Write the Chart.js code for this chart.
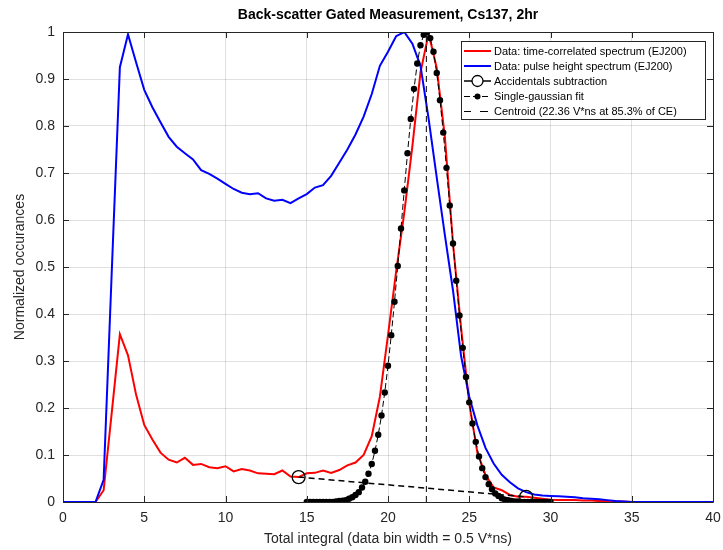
<!DOCTYPE html>
<html>
<head>
<meta charset="utf-8">
<script src="https://cdn.jsdelivr.net/npm/chart.js@4.4.1/dist/chart.umd.min.js"></script>
<style>
  html, body { margin: 0; padding: 0; background: #fff; }
  #wrap { width: 723px; height: 550px; }
</style>
</head>
<body>
<div id="wrap"><canvas id="chart" width="723" height="550"></canvas></div>
<script>
// bin centres, 0.5 V*ns wide
const binX = [
  0, 0.5, 1, 1.5, 2, 2.5, 3, 3.5, 4, 4.5,
  5, 5.5, 6, 6.5, 7, 7.5, 8, 8.5, 9, 9.5,
  10, 10.5, 11, 11.5, 12, 12.5, 13, 13.5, 14, 14.5,
  15, 15.5, 16, 16.5, 17, 17.5, 18, 18.5, 19, 19.5,
  20, 20.5, 21, 21.5, 22, 22.5, 23, 23.5, 24, 24.5,
  25, 25.5, 26, 26.5, 27, 27.5, 28, 28.5, 29, 29.5,
  30, 30.5, 31, 31.5, 32, 32.5, 33, 33.5, 34, 34.5,
  35, 35.5, 36, 36.5, 37, 37.5, 38, 38.5, 39, 39.5,
  40
];

// time-correlated spectrum (red)
const timeCorrelated = [
  0, 0, 0, 0, 0, 0.025, 0.19, 0.357, 0.312, 0.228,
  0.164, 0.133, 0.105, 0.090, 0.084, 0.094, 0.079, 0.081, 0.074, 0.072,
  0.076, 0.065, 0.070, 0.067, 0.061, 0.060, 0.059, 0.067, 0.054, 0.053,
  0.061, 0.062, 0.067, 0.062, 0.068, 0.078, 0.084, 0.100, 0.140, 0.224,
  0.355, 0.49, 0.615, 0.757, 0.914, 0.997, 0.923, 0.777, 0.55, 0.37,
  0.21, 0.105, 0.058, 0.031, 0.025, 0.015, 0.011, 0.011, 0.009, 0.007,
  0.005, 0.004, 0.004, 0.004, 0.003, 0.003, 0.002, 0.002, 0.001, 0.001,
  0, 0, 0, 0, 0, 0, 0, 0, 0, 0,
  0
];

// pulse height spectrum (blue)
const pulseHeight = [
  0, 0, 0, 0, 0, 0.047, 0.49, 0.925, 0.995, 0.935,
  0.877, 0.84, 0.808, 0.777, 0.756, 0.742, 0.729, 0.706, 0.698, 0.688,
  0.677, 0.666, 0.658, 0.655, 0.657, 0.646, 0.641, 0.643, 0.636, 0.646,
  0.655, 0.669, 0.674, 0.694, 0.722, 0.75, 0.782, 0.82, 0.868, 0.928,
  0.958, 0.991, 1.0, 0.975, 0.928, 0.815, 0.69, 0.568, 0.45, 0.31,
  0.224, 0.163, 0.115, 0.082, 0.058, 0.042, 0.029, 0.021, 0.016, 0.014,
  0.013, 0.012, 0.011, 0.010, 0.008, 0.007, 0.006, 0.004, 0.002, 0.001,
  0, 0, 0, 0, 0, 0, 0, 0, 0, 0,
  0
];

// single-gaussian fit points
const gaussX = [
  15, 15.2, 15.4, 15.6, 15.8, 16, 16.2, 16.4, 16.6, 16.8,
  17, 17.2, 17.4, 17.6, 17.8, 18, 18.2, 18.4, 18.6, 18.8,
  19, 19.2, 19.4, 19.6, 19.8, 20, 20.2, 20.4, 20.6, 20.8,
  21, 21.2, 21.4, 21.6, 21.8, 22, 22.2, 22.4, 22.6, 22.8,
  23, 23.2, 23.4, 23.6, 23.8, 24, 24.2, 24.4, 24.6, 24.8,
  25, 25.2, 25.4, 25.6, 25.8, 26, 26.2, 26.4, 26.6, 26.8,
  27, 27.2, 27.4, 27.6, 27.8, 28, 28.2, 28.4, 28.6, 28.8,
  29, 29.2, 29.4, 29.6, 29.8, 30
];
const gaussFit = [
  0, 0, 0, 0, 0, 0, 0, 0, 0, 0.001,
  0.002, 0.003, 0.004, 0.007, 0.010, 0.015, 0.021, 0.031, 0.043, 0.060,
  0.081, 0.109, 0.143, 0.184, 0.233, 0.290, 0.355, 0.426, 0.502, 0.582,
  0.663, 0.742, 0.815, 0.879, 0.933, 0.972, 0.994, 1.000, 0.987, 0.958,
  0.913, 0.855, 0.786, 0.711, 0.631, 0.550, 0.471, 0.397, 0.328, 0.266,
  0.212, 0.167, 0.128, 0.097, 0.072, 0.053, 0.038, 0.027, 0.018, 0.013,
  0.008, 0.005, 0.004, 0.002, 0.001, 0.001, 0, 0, 0, 0,
  0, 0, 0, 0, 0, 0
];

// accidentals subtraction end points
const accidentalX = [14.5, 28.5];
const accidentalY = [0.053, 0.011];

// centroid marker
const centroidX = 22.36;
const centroidY = [0, 1];

const xTicks = [0, 5, 10, 15, 20, 25, 30, 35, 40];
const yTicks = [0, 0.1, 0.2, 0.3, 0.4, 0.5, 0.6, 0.7, 0.8, 0.9, 1];

const legendLabels = [
  'Data: time-correlated spectrum (EJ200)',
  'Data: pulse height spectrum (EJ200)',
  'Accidentals subtraction',
  'Single-gaussian fit',
  'Centroid (22.36 V*ns at 85.3% of CE)'
];

const FONT = '"Liberation Sans", Arial, Helvetica, sans-serif';
const AXIS_COLOR = '#262626';

function toPoints(xs, ys) {
  return xs.map((x, i) => ({ x: x, y: ys[i] }));
}

// no extra room for edge labels, keep the plot box fixed
function fixScale(s, size) {
  if (s.isHorizontal()) s.height = size; else s.width = size;
  s.paddingLeft = 0; s.paddingRight = 0;
  s.paddingTop = 0; s.paddingBottom = 0;
}

// matlab style box, inner ticks, title and legend
const matlabBox = {
  id: 'matlabBox',
  afterDraw(chart) {
    const ctx = chart.ctx;
    const a = chart.chartArea;
    const xs = chart.scales.x, ys = chart.scales.y;
    ctx.save();

    ctx.strokeStyle = AXIS_COLOR;
    ctx.lineWidth = 1;
    ctx.beginPath();
    ctx.rect(Math.round(a.left) + 0.5, Math.round(a.top) + 0.5,
             Math.round(a.right - a.left), Math.round(a.bottom - a.top));
    ctx.stroke();

    ctx.beginPath();
    xTicks.forEach(t => {
      const px = Math.round(xs.getPixelForValue(t)) + 0.5;
      ctx.moveTo(px, a.bottom); ctx.lineTo(px, a.bottom - 6);
      ctx.moveTo(px, a.top); ctx.lineTo(px, a.top + 6);
    });
    yTicks.forEach(t => {
      const py = Math.round(ys.getPixelForValue(t)) + 0.5;
      ctx.moveTo(a.left, py); ctx.lineTo(a.left + 6, py);
      ctx.moveTo(a.right, py); ctx.lineTo(a.right - 6, py);
    });
    ctx.stroke();

    // title
    ctx.fillStyle = '#000';
    ctx.font = 'bold 14px ' + FONT;
    ctx.textAlign = 'center';
    ctx.textBaseline = 'middle';
    ctx.fillText('Back-scatter Gated Measurement, Cs137, 2hr', (a.left + a.right) / 2, 15);

    // legend
    const bx = 461, by = 41, bw = 244, bh = 78;
    ctx.fillStyle = '#fff';
    ctx.fillRect(bx, by, bw, bh);
    ctx.strokeStyle = AXIS_COLOR;
    ctx.lineWidth = 1;
    ctx.strokeRect(bx + 0.5, by + 0.5, bw, bh);

    const rowY = [51, 66, 81, 96.5, 111.5];
    const l0 = 464, l1 = 491, lm = 477.5;
    ctx.font = '11px ' + FONT;
    ctx.textAlign = 'left';
    ctx.textBaseline = 'middle';
    legendLabels.forEach((txt, i) => {
      const y = rowY[i];
      ctx.setLineDash([]);
      if (i === 0 || i === 1) {
        ctx.strokeStyle = i === 0 ? '#ff0000' : '#0000ff';
        ctx.lineWidth = 2;
        ctx.beginPath(); ctx.moveTo(l0, y); ctx.lineTo(l1, y); ctx.stroke();
      } else if (i === 2) {
        ctx.strokeStyle = '#000';
        ctx.lineWidth = 1.5;
        ctx.beginPath();
        ctx.moveTo(l0, y); ctx.lineTo(lm - 5.5, y);
        ctx.moveTo(lm + 5.5, y); ctx.lineTo(l1, y);
        ctx.stroke();
        ctx.lineWidth = 1.3;
        ctx.beginPath(); ctx.arc(lm, y, 5.5, 0, Math.PI * 2); ctx.stroke();
      } else if (i === 3) {
        ctx.strokeStyle = '#000';
        ctx.lineWidth = 1;
        ctx.setLineDash([6, 3]);
        ctx.beginPath(); ctx.moveTo(l0, y); ctx.lineTo(l1, y); ctx.stroke();
        ctx.setLineDash([]);
        ctx.fillStyle = '#000';
        ctx.beginPath(); ctx.arc(lm, y, 3, 0, Math.PI * 2); ctx.fill();
      } else {
        ctx.strokeStyle = '#000';
        ctx.lineWidth = 1;
        ctx.beginPath();
        ctx.moveTo(l0, y); ctx.lineTo(l0 + 7, y);
        ctx.moveTo(l0 + 16, y); ctx.lineTo(l0 + 24, y);
        ctx.stroke();
      }
      ctx.fillStyle = '#000';
      ctx.fillText(txt, 494, y + 0.5);
    });

    ctx.restore();
  }
};

const ctx = document.getElementById('chart').getContext('2d');
new Chart(ctx, {
  type: 'scatter',
  data: {
    datasets: [
      {
        label: legendLabels[0],
        data: toPoints(binX, timeCorrelated),
        showLine: true,
        borderColor: '#ff0000',
        borderWidth: 2,
        pointRadius: 0,
        tension: 0,
        order: 5
      },
      {
        label: legendLabels[1],
        data: toPoints(binX, pulseHeight),
        showLine: true,
        borderColor: '#0000ff',
        borderWidth: 2,
        pointRadius: 0,
        tension: 0,
        order: 4
      },
      {
        label: legendLabels[2],
        data: toPoints(accidentalX, accidentalY),
        showLine: true,
        borderColor: '#000',
        borderWidth: 1.5,
        borderDash: [6, 4],
        pointRadius: 6.5,
        pointBorderWidth: 1.3,
        pointBorderColor: '#000',
        pointBackgroundColor: 'rgba(0,0,0,0)',
        order: 3
      },
      {
        label: legendLabels[3],
        data: toPoints(gaussX, gaussFit),
        showLine: true,
        borderColor: '#000',
        borderWidth: 1,
        borderDash: [6, 3],
        pointRadius: 3.2,
        pointBorderWidth: 0,
        pointBackgroundColor: '#000',
        pointBorderColor: '#000',
        order: 2
      },
      {
        label: legendLabels[4],
        data: toPoints([centroidX, centroidX], centroidY),
        showLine: true,
        borderColor: '#000',
        borderWidth: 1,
        borderDash: [6, 4],
        pointRadius: 0,
        order: 1
      }
    ]
  },
  options: {
    responsive: false,
    animation: false,
    layout: { padding: { top: 32, right: 10, left: 0, bottom: 0 } },
    plugins: {
      legend: { display: false },
      tooltip: { enabled: false },
      title: { display: false }
    },
    scales: {
      x: {
        type: 'linear',
        min: 0,
        max: 40,
        afterBuildTicks: (s) => { s.ticks = xTicks.map(v => ({ value: v })); },
        afterFit: (s) => fixScale(s, 48),
        grid: { color: 'rgba(0,0,0,0.12)', drawTicks: false },
        border: { display: false },
        ticks: {
          color: AXIS_COLOR,
          padding: 8,
          maxRotation: 0,
          font: { family: FONT, size: 14 },
          callback: (v) => String(v)
        },
        title: {
          display: true,
          text: 'Total integral (data bin width = 0.5 V*ns)',
          color: AXIS_COLOR,
          font: { family: FONT, size: 14 },
          padding: { top: 0, bottom: 2.5 }
        }
      },
      y: {
        type: 'linear',
        min: 0,
        max: 1,
        afterBuildTicks: (s) => { s.ticks = yTicks.map(v => ({ value: v })); },
        afterFit: (s) => fixScale(s, 63),
        grid: { color: 'rgba(0,0,0,0.12)', drawTicks: false },
        border: { display: false },
        ticks: {
          color: AXIS_COLOR,
          padding: 8,
          font: { family: FONT, size: 14 },
          callback: (v) => String(Math.round(v * 10) / 10)
        },
        title: {
          display: true,
          text: 'Normalized occurances',
          color: AXIS_COLOR,
          font: { family: FONT, size: 14 },
          padding: { top: 12, bottom: 0 }
        }
      }
    }
  },
  plugins: [matlabBox]
});
</script>
</body>
</html>
